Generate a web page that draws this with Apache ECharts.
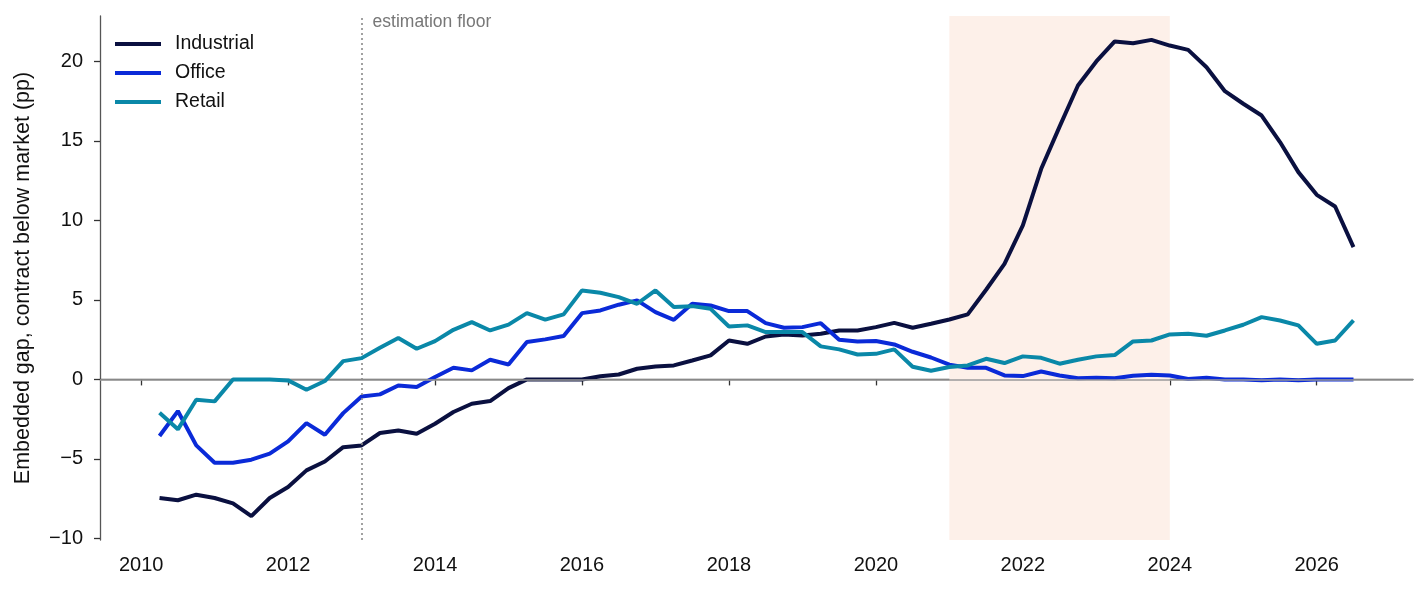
<!DOCTYPE html>
<html>
<head>
<meta charset="utf-8">
<script src="https://cdn.jsdelivr.net/npm/echarts@6/dist/echarts.min.js"></script>
<style>
  html, body { margin: 0; padding: 0; background: #fff; }
  #chart { width: 1428px; height: 593px; }
</style>
</head>
<body>
<div id="chart"></div>
<script>
// quarterly observations, 2010 Q2 .. 2026 Q3 (decimal years)
var firstQuarter = 2010.25
var industrial = [
  -7.46, -7.6, -7.25, -7.46, -7.8, -8.6, -7.46, -6.77, -5.72, -5.16, -4.26, -4.15,
  -3.37, -3.21, -3.42, -2.79, -2.05, -1.53, -1.36, -0.55, 0, 0, 0, 0,
  0.2, 0.31, 0.67, 0.82, 0.88, 1.19, 1.51, 2.45, 2.24, 2.7, 2.83, 2.77,
  2.87, 3.08, 3.08, 3.29, 3.56, 3.25, 3.5, 3.77, 4.09, 5.64, 7.27, 9.69,
  13.25, 15.9, 18.49, 20.0, 21.26, 21.15, 21.36, 21.0, 20.73, 19.64, 18.13, 17.34,
  16.6, 14.93, 13.04, 11.61, 10.88, 8.32
]
var office = [
  -3.56, -1.99, -4.15, -5.24, -5.24, -5.05, -4.67, -3.9, -2.75, -3.48, -2.12, -1.07,
  -0.94, -0.38, -0.48, 0.15, 0.73, 0.57, 1.24, 0.94, 2.35, 2.52, 2.73, 4.17,
  4.34, 4.7, 4.97, 4.23, 3.75, 4.76, 4.65, 4.3, 4.3, 3.54, 3.25, 3.29,
  3.54, 2.5, 2.39, 2.42, 2.2, 1.74, 1.38, 0.93, 0.73, 0.73, 0.25, 0.21,
  0.5, 0.25, 0.08, 0.1, 0.08, 0.23, 0.3, 0.25, 0.03, 0.1, 0.0, 0.0,
  -0.05, 0.0, -0.05, 0.0, 0.0, 0.0
]
var retail = [
  -2.1, -3.14, -1.28, -1.38, 0, 0, 0, -0.06, -0.65, -0.1, 1.15, 1.34,
  1.99, 2.6, 1.93, 2.41, 3.12, 3.6, 3.08, 3.45, 4.17, 3.76, 4.09, 5.6,
  5.45, 5.18, 4.76, 5.6, 4.55, 4.61, 4.44, 3.33, 3.4, 2.98, 2.98, 2.98,
  2.08, 1.89, 1.57, 1.61, 1.89, 0.8, 0.55, 0.78, 0.88, 1.3, 1.03, 1.45,
  1.36, 0.99, 1.24, 1.45, 1.53, 2.39, 2.45, 2.83, 2.87, 2.75, 3.08, 3.44,
  3.92, 3.71, 3.4, 2.24, 2.45, 3.71
]
var seriesNames = ['Industrial', 'Office', 'Retail']
var colors = ['#0a1040', '#0a2ad8', '#0a88a8']
var xTicks = [2010, 2012, 2014, 2016, 2018, 2020, 2022, 2024, 2026]
var yTicks = [-10, -5, 0, 5, 10, 15, 20]
var estimationFloor = 2013
var shadeRange = [2021, 2024]

function pairs (vals) {
  var out = []
  for (var i = 0; i < vals.length; i++) {
    out.push([firstQuarter + i * 0.25, vals[i]])
  }
  return out
}

var font = 'Liberation Sans, Arial, sans-serif'
var axisColor = '#555'

var myChart = echarts.init(document.getElementById('chart'))
var option = {
  backgroundColor: '#ffffff',
  animation: false,
  textStyle: { fontFamily: font },
  grid: { left: 100, right: 15, top: 16, bottom: 53 },
  legend: {
    orient: 'vertical',
    left: 110,
    top: 29,
    itemWidth: 46,
    itemHeight: 4,
    itemGap: 9,
    icon: 'rect',
    data: seriesNames,
    textStyle: { fontSize: 19.5, color: '#111', lineHeight: 20, padding: [0, 0, 0, 9] }
  },
  xAxis: {
    type: 'value',
    min: 2009.44,
    max: 2027.31,
    splitLine: { show: false },
    axisLine: { lineStyle: { color: axisColor, width: 1.3 } },
    axisTick: { customValues: xTicks, length: 6, lineStyle: { color: '#333', width: 1.3 } },
    axisLabel: {
      customValues: xTicks,
      fontSize: 20,
      color: '#111',
      margin: 15,
      formatter: function (v) { return String(v) }
    }
  },
  yAxis: {
    type: 'value',
    min: -10.1,
    max: 22.86,
    name: 'Embedded gap, contract below market (pp)',
    nameLocation: 'middle',
    nameGap: 66,
    nameRotate: 90,
    nameTextStyle: { fontSize: 21.5, color: '#111' },
    splitLine: { show: false },
    axisLine: { show: true, lineStyle: { color: axisColor, width: 1.3 } },
    axisTick: { show: true, customValues: yTicks, length: 6, lineStyle: { color: '#333', width: 1.3 } },
    axisLabel: {
      customValues: yTicks,
      fontSize: 20,
      color: '#111',
      margin: 17,
      formatter: function (v) { return v < 0 ? '\u2212' + Math.abs(v) : String(v) }
    }
  },
  series: [
    {
      name: seriesNames[0],
      type: 'line',
      data: pairs(industrial),
      showSymbol: false,
      color: colors[0],
      lineStyle: { width: 4, color: colors[0] },
      z: 3,
      markArea: {
        silent: true,
        itemStyle: { color: '#fdf0e9' },
        data: [[{ xAxis: shadeRange[0] }, { xAxis: shadeRange[1] }]]
      },
      markLine: {
        silent: true,
        symbol: 'none',
        label: { show: false },
        data: [
          { yAxis: 0, lineStyle: { color: '#9a9a9a', width: 1.6, type: 'solid' } },
          { xAxis: estimationFloor, lineStyle: { color: '#8a8a8a', width: 1.6, type: [2, 3] } }
        ]
      }
    },
    {
      name: seriesNames[1],
      type: 'line',
      data: pairs(office),
      showSymbol: false,
      color: colors[1],
      lineStyle: { width: 4, color: colors[1] },
      z: 4
    },
    {
      name: seriesNames[2],
      type: 'line',
      data: pairs(retail),
      showSymbol: false,
      color: colors[2],
      lineStyle: { width: 4, color: colors[2] },
      z: 5
    }
  ]
}
myChart.setOption(option)

// annotation next to the dotted line, placed through the axis scale
var p = myChart.convertToPixel({ gridIndex: 0 }, [estimationFloor, 22.86])
myChart.setOption({
  graphic: [{
    type: 'text',
    left: p[0] + 11,
    top: p[1] - 3,
    silent: true,
    style: { text: 'estimation floor', fill: '#777', fontSize: 17.5, fontFamily: font }
  }]
})
window.onresize = myChart.resize
</script>
</body>
</html>
